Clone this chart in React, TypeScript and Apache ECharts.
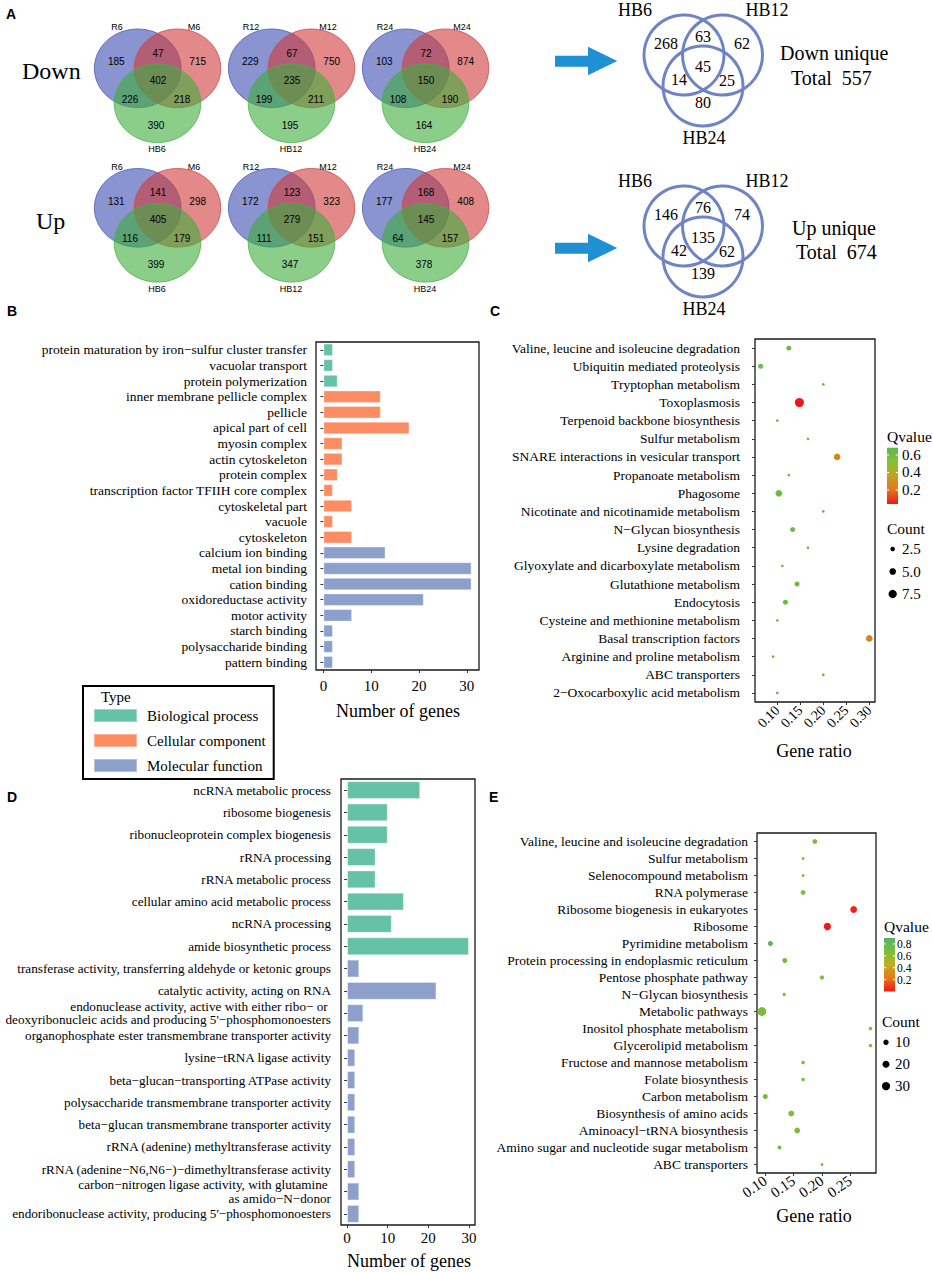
import React, { useEffect, useRef } from "react";
import * as echarts from "echarts";

const SERIF = '"Liberation Serif", "Times New Roman", serif';
const SANS = '"Liberation Sans", Arial, sans-serif';

// ---------- Panel A data ----------
const vennRowNames = ["Down", "Up"];
const vennSets = [
  ["R6", "M6", "HB6"],
  ["R12", "M12", "HB12"],
  ["R24", "M24", "HB24"],
];
// order: R only, R∩M, M only, R∩M∩HB, R∩HB, M∩HB, HB only
const downVenn = [
  [185, 47, 715, 402, 226, 218, 390],
  [229, 67, 750, 235, 199, 211, 195],
  [103, 72, 874, 150, 108, 190, 164],
];
const upVenn = [
  [131, 141, 298, 405, 116, 179, 399],
  [172, 123, 323, 279, 111, 151, 347],
  [177, 168, 408, 145, 64, 157, 378],
];
const uniqueSets = ["HB6", "HB12", "HB24"];
// order: HB6 only, HB6∩HB12, HB12 only, all, HB6∩HB24, HB12∩HB24, HB24 only
const downUnique = [268, 63, 62, 45, 14, 25, 80];
const upUnique = [146, 76, 74, 135, 42, 62, 139];
const uniqueTitles = ["Down unique", "Up unique"];
const uniqueTotals = [557, 674];

// ---------- Panel B data ----------
const typeNames = ["Biological process", "Cellular component", "Molecular function"];
const typeColors = ["#66c2a5", "#fc8d62", "#8da0cb"];
const bCategories = [
  "protein maturation by iron−sulfur cluster transfer",
  "vacuolar transport",
  "protein polymerization",
  "inner membrane pellicle complex",
  "pellicle",
  "apical part of cell",
  "myosin complex",
  "actin cytoskeleton",
  "protein complex",
  "transcription factor TFIIH core complex",
  "cytoskeletal part",
  "vacuole",
  "cytoskeleton",
  "calcium ion binding",
  "metal ion binding",
  "cation binding",
  "oxidoreductase activity",
  "motor activity",
  "starch binding",
  "polysaccharide binding",
  "pattern binding",
];
const bValues = [2, 2, 3, 12, 12, 18, 4, 4, 3, 2, 6, 2, 6, 13, 31, 31, 21, 6, 2, 2, 2];
const bTypes = [0, 0, 0, 1, 1, 1, 1, 1, 1, 1, 1, 1, 1, 2, 2, 2, 2, 2, 2, 2, 2];
const geneTicks = [0, 10, 20, 30];

// ---------- Panel C data ----------
const cCategories = [
  "Valine, leucine and isoleucine degradation",
  "Ubiquitin mediated proteolysis",
  "Tryptophan metabolism",
  "Toxoplasmosis",
  "Terpenoid backbone biosynthesis",
  "Sulfur metabolism",
  "SNARE interactions in vesicular transport",
  "Propanoate metabolism",
  "Phagosome",
  "Nicotinate and nicotinamide metabolism",
  "N−Glycan biosynthesis",
  "Lysine degradation",
  "Glyoxylate and dicarboxylate metabolism",
  "Glutathione metabolism",
  "Endocytosis",
  "Cysteine and methionine metabolism",
  "Basal transcription factors",
  "Arginine and proline metabolism",
  "ABC transporters",
  "2−Oxocarboxylic acid metabolism",
];
const cRatio = [0.125, 0.0637, 0.2, 0.148, 0.1, 0.1667, 0.23, 0.125, 0.1034, 0.2, 0.1333, 0.1667, 0.111, 0.1429, 0.1176, 0.1, 0.3, 0.0909, 0.2, 0.1];
const cCount = [3, 3, 1, 9, 1, 1, 5, 1, 5, 1, 3, 1, 1, 3, 3, 1, 5, 1, 1, 1];
const cQvalue = [0.62, 0.63, 0.65, 0.04, 0.65, 0.65, 0.27, 0.65, 0.62, 0.65, 0.62, 0.65, 0.65, 0.62, 0.62, 0.65, 0.25, 0.65, 0.65, 0.65];
const cRatioTicks = [0.1, 0.15, 0.2, 0.25, 0.3];
const cQTicks = [0.2, 0.4, 0.6];
const cCountBreaks = [2.5, 5.0, 7.5];

// ---------- Panel D data ----------
const dCategories = [
  "ncRNA metabolic process",
  "ribosome biogenesis",
  "ribonucleoprotein complex biogenesis",
  "rRNA processing",
  "rRNA metabolic process",
  "cellular amino acid metabolic process",
  "ncRNA processing",
  "amide biosynthetic process",
  "transferase activity, transferring aldehyde or ketonic groups",
  "catalytic activity, acting on RNA",
  "endonuclease activity, active with either ribo− or \ndeoxyribonucleic acids and producing 5'−phosphomonoesters",
  "organophosphate ester transmembrane transporter activity",
  "lysine−tRNA ligase activity",
  "beta−glucan−transporting ATPase activity",
  "polysaccharide transmembrane transporter activity",
  "beta−glucan transmembrane transporter activity",
  "rRNA (adenine) methyltransferase activity",
  "rRNA (adenine−N6,N6−)−dimethyltransferase activity",
  "carbon−nitrogen ligase activity, with glutamine \nas amido−N−donor",
  "endoribonuclease activity, producing 5'−phosphomonoesters",
];
const dValues = [18, 10, 10, 7, 7, 14, 11, 30, 3, 22, 4, 3, 2, 2, 2, 2, 2, 2, 3, 3];
const dTypes = [0, 0, 0, 0, 0, 0, 0, 0, 2, 2, 2, 2, 2, 2, 2, 2, 2, 2, 2, 2];

// ---------- Panel E data ----------
const eCategories = [
  "Valine, leucine and isoleucine degradation",
  "Sulfur metabolism",
  "Selenocompound metabolism",
  "RNA polymerase",
  "Ribosome biogenesis in eukaryotes",
  "Ribosome",
  "Pyrimidine metabolism",
  "Protein processing in endoplasmic reticulum",
  "Pentose phosphate pathway",
  "N−Glycan biosynthesis",
  "Metabolic pathways",
  "Inositol phosphate metabolism",
  "Glycerolipid metabolism",
  "Fructose and mannose metabolism",
  "Folate biosynthesis",
  "Carbon metabolism",
  "Biosynthesis of amino acids",
  "Aminoacyl−tRNA biosynthesis",
  "Amino sugar and nucleotide sugar metabolism",
  "ABC transporters",
];
const eRatio = [0.1875, 0.1667, 0.1667, 0.1667, 0.256, 0.2096, 0.109, 0.1343, 0.2, 0.1333, 0.094, 0.2857, 0.2857, 0.1667, 0.1667, 0.1, 0.1458, 0.1563, 0.125, 0.2];
const eCount = [7, 1, 1, 7, 18, 22, 8, 8, 5, 2, 36, 3, 3, 3, 3, 8, 13, 12, 4, 1];
const eQvalue = [0.68, 0.68, 0.68, 0.66, 0.02, 0.01, 0.86, 0.68, 0.66, 0.68, 0.66, 0.64, 0.64, 0.68, 0.68, 0.7, 0.66, 0.66, 0.7, 0.68];
const eRatioTicks = [0.1, 0.15, 0.2, 0.25];
const eQTicks = [0.2, 0.4, 0.6, 0.8];
const eCountBreaks = [10, 20, 30];

const qColorsC = ["#f01616", "#e0761a", "#c2a21f", "#84c034", "#5cb84a"];
const qColorsE = ["#f01616", "#e5781b", "#bfae22", "#78bf3a", "#58b06a"];

const sizeC = (c: number) => Math.max(2.4, 3.2 * Math.sqrt(c) - 0.5);
const sizeE = (c: number) => 1.6 + 1.2 * Math.sqrt(c);

function T(x: number, y: number, text: string, size: number, align = "left", family = SERIF, weight = "normal") {
  return {
    type: "text",
    x,
    y,
    silent: true,
    z: 100,
    style: {
      text,
      fill: "#000",
      fontSize: size,
      fontFamily: family,
      fontWeight: weight,
      align,
      verticalAlign: "middle",
      textAlign: align,
      textVerticalAlign: "middle",
    },
  };
}

function buildGraphic() {
  const els: any[] = [];
  // panel letters
  els.push(T(6, 14, "A", 14, "left", SANS, "bold"));
  els.push(T(7, 311, "B", 14, "left", SANS, "bold"));
  els.push(T(490, 311, "C", 14, "left", SANS, "bold"));
  els.push(T(7, 797, "D", 14, "left", SANS, "bold"));
  els.push(T(489, 797, "E", 14, "left", SANS, "bold"));

  // Row labels
  els.push(T(22, 71, vennRowNames[0], 24));
  els.push(T(36, 221, vennRowNames[1], 24));

  // small Venns
  const fills = ["rgba(58,77,176,0.6)", "rgba(208,58,58,0.6)", "rgba(60,174,60,0.6)"];
  const strokes = ["#4a5cb8", "#cc4a4a", "#4cae4c"];
  const ellOff = [[0, 0], [39.8, 0], [19.8, 35]];
  const numOff = [[-21.4, -6.6], [20.3, -15], [60, -6.6], [20.3, 12], [-7.7, 30.7], [44.3, 30.7], [18.3, 56.7]];
  const labOff = [[-20.7, -41.3], [56.3, -41.3], [19.3, 80.7]];
  [downVenn, upVenn].forEach((rowData, r) => {
    rowData.forEach((vals, g) => {
      const bx = 137.7 + 134 * g;
      const by = 68.3 + 139.5 * r;
      ellOff.forEach((o, k) => {
        els.push({
          type: "ellipse",
          silent: true,
          z: 10,
          shape: { cx: bx + o[0], cy: by + o[1], rx: 43.3, ry: 39.3 },
          style: { fill: fills[k], stroke: strokes[k], lineWidth: 0.8 },
        });
      });
      vals.forEach((v, k) => {
        els.push(T(bx + numOff[k][0], by + numOff[k][1], String(v), 10, "center", SANS));
      });
      vennSets[g].forEach((s, k) => {
        els.push(T(bx + labOff[k][0], by + labOff[k][1], s, 9, "center", SANS));
      });
    });
  });

  // unique Venns + arrows
  const cOff = [[684, 55], [722.5, 55], [703, 86]];
  const nPos = [[666, 43.3], [703, 36], [742, 43.3], [703, 66], [679, 79], [727, 80], [703, 102]];
  const lPos = [[635, 10], [767, 10], [704, 138]];
  [downUnique, upUnique].forEach((vals, r) => {
    const dy = r * 171;
    const ay = 61 + r * 187;
    els.push({
      type: "polygon",
      silent: true,
      shape: {
        points: [
          [555, ay - 5.3], [588, ay - 5.3], [588, ay - 14.3], [617.3, ay],
          [588, ay + 14.3], [588, ay + 5.7], [555, ay + 5.7],
        ],
      },
      style: { fill: "#1f90d4" },
    });
    cOff.forEach((c) => {
      els.push({
        type: "circle",
        silent: true,
        shape: { cx: c[0], cy: c[1] + dy, r: 40 },
        style: { fill: "none", stroke: "#6f84c5", lineWidth: 3 },
      });
    });
    vals.forEach((v, k) => els.push(T(nPos[k][0], nPos[k][1] + dy, String(v), 16, "center")));
    uniqueSets.forEach((s, k) => els.push(T(lPos[k][0], lPos[k][1] + dy, s, 18, "center")));
  });
  els.push(T(780, 53, uniqueTitles[0], 20));
  els.push(T(791, 78, "Total  " + uniqueTotals[0], 20));
  els.push(T(792, 228, uniqueTitles[1], 20));
  els.push(T(796, 252, "Total  " + uniqueTotals[1], 20));

  // axis titles
  els.push(T(398, 711, "Number of genes", 18, "center"));
  els.push(T(409, 1261, "Number of genes", 18, "center"));
  els.push(T(814, 751, "Gene ratio", 18, "center"));
  els.push(T(814, 1216, "Gene ratio", 18, "center"));

  // legend title for B
  els.push(T(101, 697, "Type", 15));

  // colorbars
  const colorbar = (x: number, top: number, bottom: number, qmin: number, qmax: number, colors: string[], ticks: number[], labelX: number, fs: number) => {
    const w = 11;
    els.push({
      type: "rect",
      silent: true,
      shape: { x, y: top, width: w, height: bottom - top },
      style: {
        fill: new echarts.graphic.LinearGradient(0, 1, 0, 0, colors.map((c, i) => ({ offset: i / (colors.length - 1), color: c }))),
      },
    });
    ticks.forEach((t) => {
      const y = bottom - ((t - qmin) / (qmax - qmin)) * (bottom - top);
      els.push({ type: "line", silent: true, shape: { x1: x, y1: y, x2: x + 2.2, y2: y }, style: { stroke: "#fff", lineWidth: 1 } });
      els.push({ type: "line", silent: true, shape: { x1: x + w - 2.2, y1: y, x2: x + w, y2: y }, style: { stroke: "#fff", lineWidth: 1 } });
      const lab = T(labelX, y, t.toFixed(1), fs);
      (lab.style as any).lineHeight = fs;
      els.push(lab);
    });
  };
  els.push(T(887, 436, "Qvalue", 15.5));
  colorbar(887, 447.7, 504, 0.04, 0.683, qColorsC, cQTicks, 902, 15);
  els.push(T(887, 528, "Count", 15.5));
  cCountBreaks.forEach((c, i) => {
    const y = 549 + i * 22.5;
    els.push({ type: "circle", silent: true, shape: { cx: 892.7, cy: y, r: sizeC(c) / 2 }, style: { fill: "#000" } });
    els.push(T(902, y, c.toFixed(1), 15));
  });

  els.push(T(884, 926, "Qvalue", 15.5));
  colorbar(884, 938, 991.5, 0.0, 0.9, qColorsE, eQTicks, 897, 11.5);
  els.push(T(882, 1021, "Count", 15.5));
  eCountBreaks.forEach((c, i) => {
    const y = 1042.3 + i * 21.9;
    els.push({ type: "circle", silent: true, shape: { cx: 886, cy: y, r: sizeE(c) / 2 }, style: { fill: "#000" } });
    els.push(T(895, y, String(c), 15));
  });
  return els;
}

function barSeries(values: number[], types: number[], gridIdx: number, used: number[]) {
  return used.map((t) => ({
    type: "bar",
    name: typeNames[t],
    xAxisIndex: gridIdx,
    yAxisIndex: gridIdx,
    stack: "s" + gridIdx,
    barWidth: "80%",
    data: values.map((v, i) => (types[i] === t ? v : "-")),
    itemStyle: { color: typeColors[t], borderColor: "rgba(255,255,255,0.35)", borderWidth: 1 },
    silent: true,
  }));
}

const catAxis = (gridIndex: number, data: string[], margin: number, fontSize = 13.5, lineHeight = 14) => ({
  type: "category",
  gridIndex,
  data,
  inverse: true,
  axisLine: { show: false },
  axisTick: { show: true, alignWithLabel: true, length: 3, lineStyle: { color: "#333" } },
  axisLabel: { interval: 0, fontFamily: SERIF, fontSize, color: "#000", margin, lineHeight },
  splitLine: { show: false },
});

const valAxis = (gridIndex: number, min: number, max: number, ticks: number[], opts: any) => ({
  type: "value",
  gridIndex,
  min,
  max,
  axisLine: { show: false },
  splitLine: { show: false },
  axisTick: { show: true, length: 3, customValues: ticks, lineStyle: { color: "#333" } },
  axisLabel: {
    customValues: ticks,
    fontFamily: SERIF,
    color: "#000",
    ...opts,
  },
});

function buildOption() {
  const gridBase = {
    show: true,
    borderColor: "#1a1a1a",
    borderWidth: 1.3,
    backgroundColor: "transparent",
    containLabel: false,
    outerBoundsMode: "none",
  };
  return {
    animation: false,
    backgroundColor: "#fff",
    textStyle: { fontFamily: SERIF },
    grid: [
      { ...gridBase, left: 316, top: 342, width: 163, height: 328 },
      { ...gridBase, left: 755, top: 339, width: 120, height: 363 },
      { ...gridBase, left: 341, top: 779, width: 134, height: 446 },
      { ...gridBase, left: 757, top: 833, width: 119, height: 340 },
    ],
    xAxis: [
      valAxis(0, -1.55, 32.55, geneTicks, { fontSize: 15, margin: 8 }),
      valAxis(1, 0.0515, 0.3124, cRatioTicks, { fontSize: 14, margin: 6, rotate: 45, formatter: (v: number) => v.toFixed(2) }),
      valAxis(2, -1.5, 31.5, geneTicks, { fontSize: 15, margin: 5 }),
      valAxis(3, 0.0853, 0.2954, eRatioTicks, { fontSize: 15, margin: 6, rotate: 35, formatter: (v: number) => v.toFixed(2) }),
    ],
    yAxis: [
      catAxis(0, bCategories, 9),
      catAxis(1, cCategories, 15),
      catAxis(2, dCategories, 10, 13.2, 13.5),
      catAxis(3, eCategories, 9),
    ],
    legend: {
      show: true,
      data: typeNames,
      orient: "vertical",
      left: 83,
      top: 686,
      padding: [22, 8, 6, 10],
      itemGap: 10,
      itemWidth: 43,
      itemHeight: 13,
      borderColor: "#000",
      borderWidth: 2,
      selectedMode: false,
      icon: "rect",
      textStyle: { fontFamily: SERIF, fontSize: 15, color: "#000", padding: [0, 0, 0, 5] },
    },
    visualMap: [
      { type: "continuous", show: false, seriesIndex: 3, dimension: 3, min: 0.04, max: 0.683, inRange: { color: qColorsC } },
      { type: "continuous", show: false, seriesIndex: 6, dimension: 3, min: 0.0, max: 0.9, inRange: { color: qColorsE } },
    ],
    series: [
      ...barSeries(bValues, bTypes, 0, [0, 1, 2]),
      {
        type: "scatter",
        xAxisIndex: 1,
        yAxisIndex: 1,
        silent: true,
        data: cCategories.map((c, i) => [cRatio[i], c, cCount[i], cQvalue[i]]),
        symbolSize: (v: any) => sizeC(v[2]),
        itemStyle: { opacity: 1 },
      },
      ...barSeries(dValues, dTypes, 2, [0, 2]),
      {
        type: "scatter",
        xAxisIndex: 3,
        yAxisIndex: 3,
        silent: true,
        data: eCategories.map((c, i) => [eRatio[i], c, eCount[i], eQvalue[i]]),
        symbolSize: (v: any) => sizeE(v[2]),
        itemStyle: { opacity: 1 },
      },
    ],
    graphic: { elements: buildGraphic() },
  };
}

export default function App() {
  const ref = useRef<HTMLDivElement>(null);
  useEffect(() => {
    if (!ref.current) return;
    const chart = echarts.init(ref.current, null, { renderer: "svg" });
    chart.setOption(buildOption() as any);
    return () => chart.dispose();
  }, []);
  return (
    <div
      ref={ref}
      style={{ position: "absolute", left: 0, top: 0, width: 932, height: 1272, background: "#fff" }}
    />
  );
}
